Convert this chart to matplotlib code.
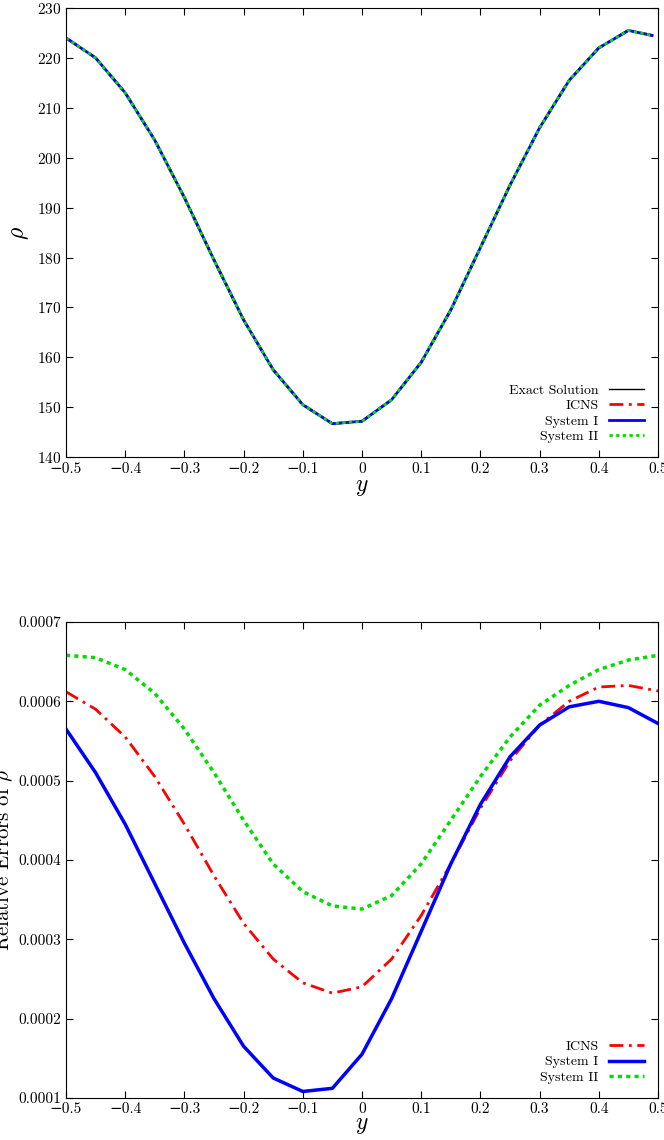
import matplotlib
matplotlib.use("Agg")
import matplotlib.pyplot as plt

plt.rcParams['font.family'] = ['cmr10', 'DejaVu Serif']
plt.rcParams['mathtext.fontset'] = 'cm'
plt.rcParams['axes.formatter.use_mathtext'] = True
plt.rcParams['axes.unicode_minus'] = True

y_top = [-0.5,-0.45,-0.4,-0.35,-0.3,-0.25,-0.2,-0.15,-0.1,-0.05,0,0.05,0.1,0.15,0.2,0.25,0.3,0.35,0.4,0.45,0.49]
rho = [224,220,213,203.5,192,179.5,167.5,157.5,150.5,146.7,147.2,151.5,159,169.5,182,194.5,206,215.5,222,225.5,224.5]

y_bot = [-0.5,-0.45,-0.4,-0.35,-0.3,-0.25,-0.2,-0.15,-0.1,-0.05,0,0.05,0.1,0.15,0.2,0.25,0.3,0.35,0.4,0.45,0.5]
err_icns = [6.12,5.9,5.55,5.05,4.45,3.8,3.2,2.75,2.45,2.32,2.4,2.75,3.3,3.95,4.65,5.25,5.7,6.0,6.18,6.2,6.13]
err_s1 = [5.65,5.1,4.45,3.7,2.95,2.25,1.65,1.25,1.08,1.12,1.55,2.25,3.1,3.95,4.7,5.3,5.7,5.93,6.0,5.92,5.72]
err_s2 = [6.58,6.55,6.4,6.1,5.65,5.1,4.5,3.95,3.6,3.42,3.38,3.55,3.95,4.5,5.05,5.55,5.95,6.2,6.4,6.52,6.58]

fig = plt.figure(figsize=(6.64, 11.4), dpi=100)
ax1 = fig.add_axes([0.0994, 0.599, 0.8916, 0.394])
ax2 = fig.add_axes([0.0994, 0.037, 0.8916, 0.4174])

ax1.plot(y_top, rho, color='black', lw=1, label='Exact Solution')
ax1.plot(y_top, rho, color='red', lw=2, ls=(0, (5, 2, 1, 2)), label='ICNS')
ax1.plot(y_top, rho, color='blue', lw=2, label='System I')
ax1.plot(y_top, rho, color='#00dd00', lw=2, ls=(0, (1.2, 1.2)), label='System II')
ax1.set_xlim(-0.5, 0.5); ax1.set_ylim(140, 230)
ax1.set_yticks(range(140, 231, 10))
ax1.set_xlabel(r'$y$', fontsize=17, labelpad=0)
ax1.set_ylabel(r'$\rho$', fontsize=17)

s = 1e-4
ax2.plot(y_bot, [v*s for v in err_icns], color='red', lw=2, ls=(0, (5, 2, 1, 2)), label='ICNS')
ax2.plot(y_bot, [v*s for v in err_s1], color='blue', lw=2.5, label='System I')
ax2.plot(y_bot, [v*s for v in err_s2], color='#00dd00', lw=2.5, ls=(0, (1.2, 1.2)), label='System II')
ax2.set_xlim(-0.5, 0.5); ax2.set_ylim(0.0001, 0.0007)
ax2.set_yticks([0.0001,0.0002,0.0003,0.0004,0.0005,0.0006,0.0007])
ax2.set_yticklabels(['0.0001','0.0002','0.0003','0.0004','0.0005','0.0006','0.0007'])
ax2.set_xlabel(r'$y$', fontsize=17, labelpad=-2)
ax2.set_ylabel(r'Relative Errors of $\rho$', fontsize=15, labelpad=2)

for ax in (ax1, ax2):
    ax.tick_params(direction='in', top=True, right=True, labelsize=11, length=5)
    ax.set_xticks([-0.5,-0.4,-0.3,-0.2,-0.1,0,0.1,0.2,0.3,0.4,0.5])
    ax.set_xticklabels(['\u22120.5','\u22120.4','\u22120.3','\u22120.2','\u22120.1','0','0.1','0.2','0.3','0.4','0.5'])
    ax.legend(loc='lower right', frameon=False, markerfirst=False, fontsize=10,
              handlelength=2.5, labelspacing=0.2, borderaxespad=0.6)

fig.savefig('out.png', dpi=100)
